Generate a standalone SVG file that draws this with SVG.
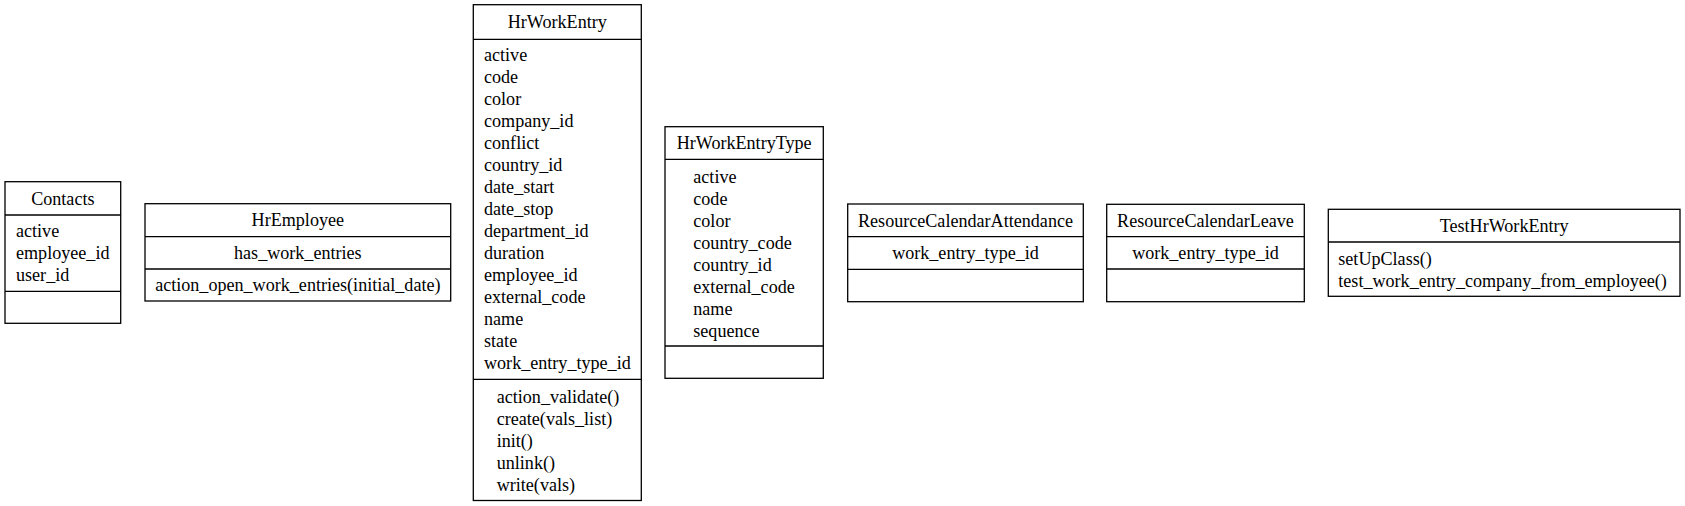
<svg xmlns="http://www.w3.org/2000/svg" width="1685" height="506" viewBox="0 0 1685 506">
<style>
  .box { fill: #ffffff; stroke: #000000; stroke-width: 1.3; }
  .sep { stroke: #000000; stroke-width: 1.3; }
  text { font-family: "Liberation Serif", "Times New Roman", serif; font-size: 18.1px; fill: #000000; }
  .c { text-anchor: middle; }
  .l { text-anchor: start; }
</style>
<rect width="1685" height="506" fill="#ffffff"/>
<g id="connectors"></g>

<g id="Contacts">
  <rect class="box" x="5" y="181.7" width="115.7" height="141.6"/>
  <line class="sep" x1="5" y1="215" x2="120.7" y2="215"/>
  <line class="sep" x1="5" y1="291.3" x2="120.7" y2="291.3"/>
  <text class="c" x="62.85" y="204.6">Contacts</text>
  <text class="l" x="16" y="237.4">active</text>
  <text class="l" x="16" y="259.4">employee_id</text>
  <text class="l" x="16" y="281.4">user_id</text>
</g>

<g id="HrEmployee">
  <rect class="box" x="145" y="203.7" width="305.7" height="97.3"/>
  <line class="sep" x1="145" y1="236.7" x2="450.7" y2="236.7"/>
  <line class="sep" x1="145" y1="269" x2="450.7" y2="269"/>
  <text class="c" x="297.85" y="226.45">HrEmployee</text>
  <text class="c" x="297.85" y="259.1">has_work_entries</text>
  <text class="c" x="297.85" y="291.25">action_open_work_entries(initial_date)</text>
</g>

<g id="HrWorkEntry">
  <rect class="box" x="473.3" y="4.7" width="168" height="495.8"/>
  <line class="sep" x1="473.3" y1="39.3" x2="641.3" y2="39.3"/>
  <line class="sep" x1="473.3" y1="379.3" x2="641.3" y2="379.3"/>
  <text class="c" x="557.3" y="28.25">HrWorkEntry</text>
  <text class="l" x="484" y="60.5">active</text>
  <text class="l" x="484" y="82.5">code</text>
  <text class="l" x="484" y="104.5">color</text>
  <text class="l" x="484" y="126.5">company_id</text>
  <text class="l" x="484" y="148.5">conflict</text>
  <text class="l" x="484" y="170.5">country_id</text>
  <text class="l" x="484" y="192.5">date_start</text>
  <text class="l" x="484" y="214.5">date_stop</text>
  <text class="l" x="484" y="236.5">department_id</text>
  <text class="l" x="484" y="258.5">duration</text>
  <text class="l" x="484" y="280.5">employee_id</text>
  <text class="l" x="484" y="302.5">external_code</text>
  <text class="l" x="484" y="324.5">name</text>
  <text class="l" x="484" y="346.5">state</text>
  <text class="l" x="484" y="368.5">work_entry_type_id</text>
  <text class="l" x="496.7" y="402.5">action_validate()</text>
  <text class="l" x="496.7" y="424.5">create(vals_list)</text>
  <text class="l" x="496.7" y="446.5">init()</text>
  <text class="l" x="496.7" y="468.5">unlink()</text>
  <text class="l" x="496.7" y="490.5">write(vals)</text>
</g>

<g id="HrWorkEntryType">
  <rect class="box" x="665" y="126.7" width="158.3" height="251.6"/>
  <line class="sep" x1="665" y1="159.3" x2="823.3" y2="159.3"/>
  <line class="sep" x1="665" y1="346" x2="823.3" y2="346"/>
  <text class="c" x="744.15" y="149.25">HrWorkEntryType</text>
  <text class="l" x="693.3" y="182.6">active</text>
  <text class="l" x="693.3" y="204.6">code</text>
  <text class="l" x="693.3" y="226.6">color</text>
  <text class="l" x="693.3" y="248.6">country_code</text>
  <text class="l" x="693.3" y="270.6">country_id</text>
  <text class="l" x="693.3" y="292.6">external_code</text>
  <text class="l" x="693.3" y="314.6">name</text>
  <text class="l" x="693.3" y="336.6">sequence</text>
</g>

<g id="ResourceCalendarAttendance">
  <rect class="box" x="847.7" y="204" width="235.6" height="97.7"/>
  <line class="sep" x1="847.7" y1="236.7" x2="1083.3" y2="236.7"/>
  <line class="sep" x1="847.7" y1="269.3" x2="1083.3" y2="269.3"/>
  <text class="c" x="965.5" y="226.6">ResourceCalendarAttendance</text>
  <text class="c" x="965.5" y="259.25">work_entry_type_id</text>
</g>

<g id="ResourceCalendarLeave">
  <rect class="box" x="1106.7" y="204.3" width="197.6" height="97.4"/>
  <line class="sep" x1="1106.7" y1="236.7" x2="1304.3" y2="236.7"/>
  <line class="sep" x1="1106.7" y1="269" x2="1304.3" y2="269"/>
  <text class="c" x="1205.5" y="226.6">ResourceCalendarLeave</text>
  <text class="c" x="1205.5" y="259.1">work_entry_type_id</text>
</g>

<g id="TestHrWorkEntry">
  <rect class="box" x="1328.3" y="209.3" width="351.7" height="87"/>
  <line class="sep" x1="1328.3" y1="242" x2="1680" y2="242"/>
  <text class="c" x="1504.2" y="232">TestHrWorkEntry</text>
  <text class="l" x="1338.3" y="265">setUpClass()</text>
  <text class="l" x="1338.3" y="287">test_work_entry_company_from_employee()</text>
</g>
</svg>
